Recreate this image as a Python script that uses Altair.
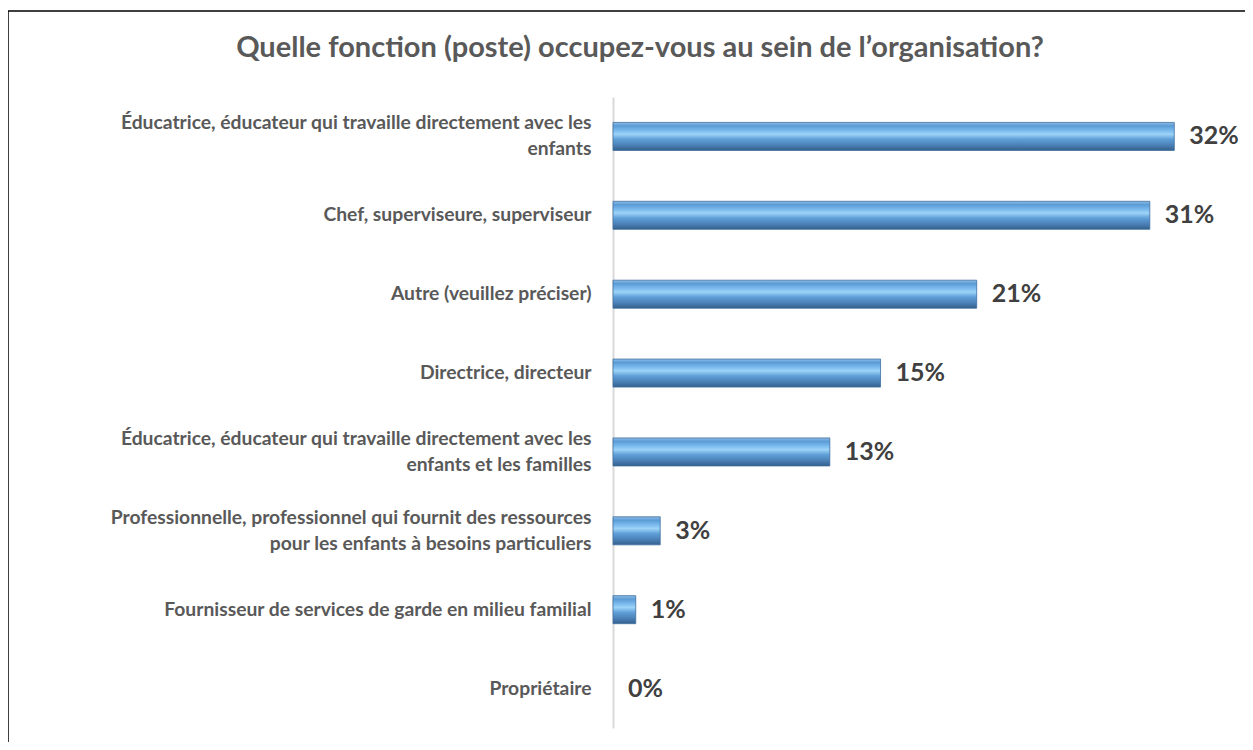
import altair as alt
import pandas as pd

categories = [
    "Éducatrice, éducateur qui travaille directement avec les|enfants",
    "Chef, superviseure, superviseur",
    "Autre (veuillez préciser)",
    "Directrice, directeur",
    "Éducatrice, éducateur qui travaille directement avec les|enfants et les familles",
    "Professionnelle, professionnel qui fournit des ressources|pour les enfants à besoins particuliers",
    "Fournisseur de services de garde en milieu familial",
    "Propriétaire",
]
values = [32.1, 30.7, 20.8, 15.3, 12.4, 2.7, 1.3, 0.0]
labels = ["32%", "31%", "21%", "15%", "13%", "3%", "1%", "0%"]
title_text = "Quelle fonction (poste) occupez-vous au sein de l’organisation?"

df = pd.DataFrame({"cat": categories, "val": values, "lab": labels})

W, H = 612, 631
PAD = {"left": 605, "top": 89, "right": 20, "bottom": 14}

grad = alt.Gradient(
    gradient="linear", x1=0, y1=0, x2=0, y2=1,
    stops=[
        alt.GradientStop(color="#8fbfe8", offset=0),
        alt.GradientStop(color="#5b9bd5", offset=0.12),
        alt.GradientStop(color="#7cbcef", offset=0.3),
        alt.GradientStop(color="#9dd3f7", offset=0.42),
        alt.GradientStop(color="#5f9fd8", offset=0.6),
        alt.GradientStop(color="#4a7fb5", offset=0.82),
        alt.GradientStop(color="#34608c", offset=1),
    ],
)

y_enc = alt.Y(
    "cat:N", sort=categories, title=None,
    scale=alt.Scale(paddingInner=0.645, paddingOuter=0.3225),
    axis=alt.Axis(
        labelExpr="split(datum.label, '|')",
        labelFont="Lato", labelFontSize=19.3, labelFontWeight="bold",
        labelColor="#595959", labelPadding=22, labelLimit=600,
        labelLineHeight=26, ticks=False, domainColor="#d9d9d9",
        domainWidth=2, labelAlign="right",
        labelOffset={"condition": {"test": "indexof(datum.label, '|') >= 0", "value": -13}, "value": 0},
    ),
)
x_enc = alt.X("val:Q", scale=alt.Scale(domain=[0, 35]), axis=None)

bars = alt.Chart(df).mark_bar(
    color=grad, stroke="#3f6f9e", strokeWidth=0.8, cornerRadius=0
).encode(
    x=x_enc, y=y_enc,
    strokeOpacity=alt.condition("datum.val > 0", alt.value(1), alt.value(0)),
)

text = alt.Chart(df).mark_text(
    align="left", baseline="middle", dx=15, font="Lato",
    fontSize=25, fontWeight="bold", color="#404040"
).encode(x=x_enc, y=y_enc, text="lab:N")

one = pd.DataFrame({"t": [title_text]})

frame = alt.Chart(one).mark_rect(
    fill=None, stroke="#000000", strokeWidth=1.5, clip=False
).encode(
    x=alt.value(-605), x2=alt.value(W + 100),
    y=alt.value(-86), y2=alt.value(H + 100),
)

title = alt.Chart(one).mark_text(
    align="center", baseline="middle", font="Lato", fontSize=29,
    fontWeight="bold", color="#595959"
).encode(x=alt.value(27), y=alt.value(-49), text="t:N")

chart = alt.layer(frame, title, bars, text).properties(
    width=W, height=H,
    autosize=alt.AutoSizeParams(type="none"),
    padding=PAD,
).configure_view(stroke=None)

chart.save("out.html", embed_options={"renderer": "svg", "actions": False})
